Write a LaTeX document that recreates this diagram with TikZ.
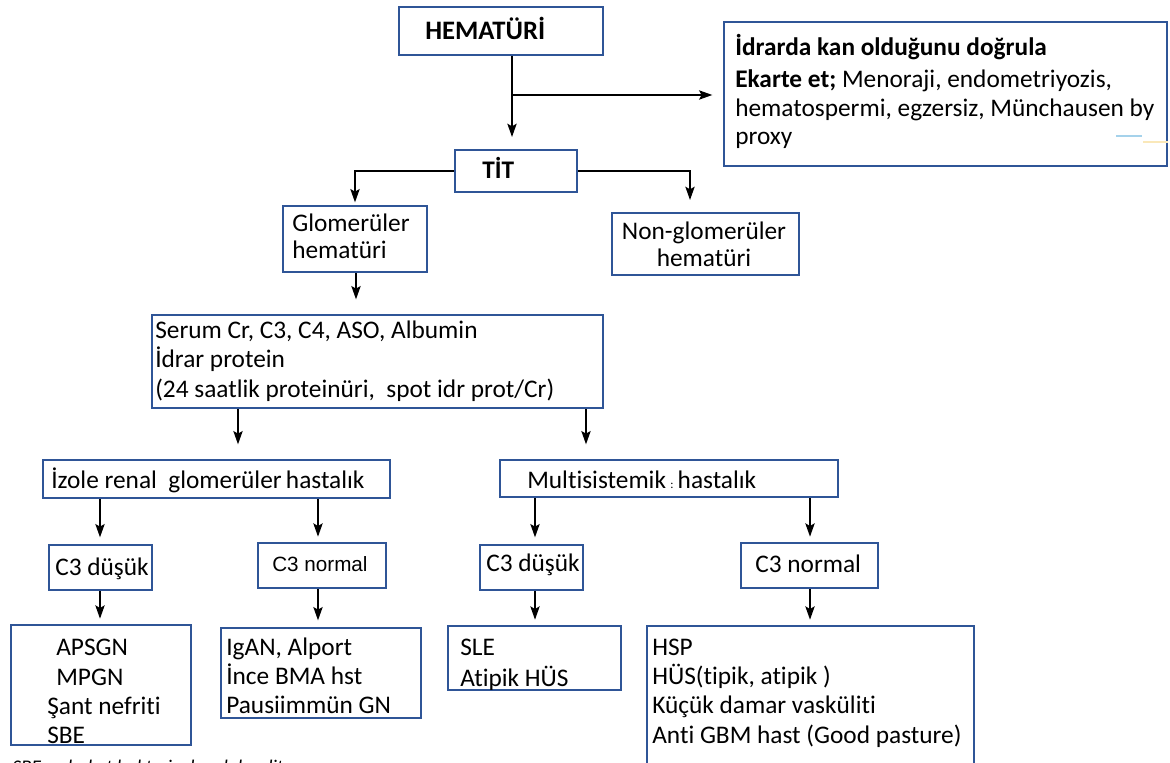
\documentclass[tikz,border=0pt]{standalone}
\usepackage{fontspec}
\setmainfont[Ligatures=NoCommon]{Carlito}
\newfontfamily\arialfont{Liberation Sans}
\usetikzlibrary{arrows.meta,fit,calc}
\definecolor{boxblue}{RGB}{47,85,151}
\definecolor{tickblue}{RGB}{165,210,235}
\definecolor{tickyellow}{RGB}{250,232,185}
\begin{document}
\begin{tikzpicture}[x=0.75pt,y=-0.75pt,
  box/.style={draw=boxblue,line width=1.5pt,inner sep=0pt},
  lbl/.style={inner sep=0pt,anchor=base west,font=\fontsize{19}{22}\selectfont},
  arr/.style={line width=1.1pt,-{Stealth[length=10pt,width=7pt,inset=2pt]}},
  ln/.style={line width=1.1pt}]
\clip (0,0) rectangle (1170,763);
\fill[white] (0,0) rectangle (1170,763);

% boxes
\node[box,fit={(399,7)(603,55)}] (hem) {};
\node[box,fit={(724,22)(1167,166)}] (conf) {};
\node[box,fit={(455,150)(577,192)}] (tit) {};
\node[box,fit={(283,206)(427,272)}] (glom) {};
\node[box,fit={(612,213)(799,275)}] (nonglom) {};
\node[box,fit={(152,315)(603,408)}] (serum) {};
\node[box,fit={(43,460)(390,498)}] (izole) {};
\node[box,fit={(500,460)(838,497)}] (multi) {};
\node[box,fit={(49,545)(152,590)}] (lowA) {};
\node[box,fit={(258,543)(386,588)}] (normA) {};
\node[box,fit={(480,545)(583,590)}] (lowB) {};
\node[box,fit={(741,543)(878,588)}] (normB) {};
\node[box,fit={(11,625)(191,745)}] (resA) {};
\node[box,fit={(221,628)(421,718)}] (resB) {};
\node[box,fit={(448,626)(621,690)}] (resC) {};
\node[box,fit={(647,626)(974,790)}] (resD) {};

% texts
\node[lbl,font=\fontsize{20}{22}\selectfont\bfseries] (them) at (425,40) {HEMATÜRİ};
\node[lbl,font=\fontsize{19}{22}\selectfont\bfseries] (tconf1) at (735,56) {İdrarda kan olduğunu doğrula};
\node[lbl] (tconf2) at (735,88) {\textbf{Ekarte et;} Menoraji, endometriyozis,};
\node[lbl] (tconf3) at (735,117) {hematospermi, egzersiz, Münchausen by};
\node[lbl] (tconf4) at (735,145) {proxy};
\draw[tickblue,line width=1pt] (1116,136) -- (1142,136);
\draw[tickyellow,line width=1pt] (1143,142) -- (1168,142);

\node[lbl,font=\fontsize{19}{22}\selectfont\bfseries] (ttit) at (482,179) {TİT};
\node[lbl] (tglom1) at (292,231) {Glomerüler};
\node[lbl] (tglom2) at (292,258) {hematüri};
\node[lbl,anchor=base] (tng1) at (704,239) {Non-glomerüler};
\node[lbl,anchor=base] (tng2) at (704,266) {hematüri};
\node[lbl] (tser1) at (155,338) {Serum Cr, C3, C4, ASO, Albumin};
\node[lbl] (tser2) at (155,367) {İdrar protein};
\node[lbl] (tser3) at (155,397) {(24 saatlik proteinüri,\ \ spot idr prot/Cr)};
\node[lbl] (tiz) at (51,488) {İzole renal\ \ glomerüler\,hastalık};
\node[lbl] (tmu) at (527,488) {Multisistemik\,{\fontsize{9}{9}\selectfont:}\,hastalık};
\node[lbl] (tlowA) at (55,575) {C3 düşük};
\node[lbl,font=\fontsize{15.5}{18}\selectfont\arialfont] (tnormA) at (272,571) {C3 normal};
\node[lbl] (tlowB) at (486,571) {C3 düşük};
\node[lbl] (tnormB) at (755,572) {C3 normal};

\node[lbl] (ta1) at (56,655) {APSGN};
\node[lbl] (ta2) at (56,685) {MPGN};
\node[lbl] (ta3) at (47,714) {Şant nefriti};
\node[lbl] (ta4) at (47,743) {SBE};
\node[lbl] (tb1) at (226,655) {IgAN, Alport};
\node[lbl] (tb2) at (226,684) {İnce BMA hst};
\node[lbl] (tb3) at (226,713) {Pausiimmün GN};
\begin{scope}
  \clip (448,626) rectangle (621,689);
  \node[lbl] (tc1) at (460,655) {SLE};
  \node[lbl] (tc2) at (460,686) {Atipik HÜS};
\end{scope}
\node[lbl] (td1) at (652,655) {HSP};
\node[lbl] (td2) at (652,684) {HÜS(tipik, atipik )};
\node[lbl] (td3) at (652,713) {Küçük damar vasküliti};
\node[lbl] (td4) at (652,743) {Anti GBM hast (Good pasture)};
\node[lbl,font=\fontsize{14.5}{16}\selectfont\itshape] (tnote) at (12,773) {SBE: subakut bakteriyel endokardit};

% connectors
\coordinate (split) at (512,95);
\draw[ln] (hem.south -| split) -- (split);
\draw[arr,shorten >=8pt] (split) -- (split -| conf.west);
\draw[arr,shorten >=9pt] (split) -- (split |- tit.north);
\coordinate (tl) at (355,171);
\coordinate (tr) at (690,171);
\draw[arr,shorten >=2pt] (tit.west) -- (tl) -- (tl |- glom.north);
\draw[arr,shorten >=9pt] (tit.east) -- (tr) -- (tr |- nonglom.north);
\draw[arr,shorten >=11pt] (glom.south -| 356,0) -- (serum.north -| 356,0);
\draw[arr,shorten >=11pt] (serum.south -| 238,0) -- (izole.north -| 238,0);
\draw[arr,shorten >=11pt] (serum.south -| 586,0) -- (multi.north -| 586,0);
\draw[arr,shorten >=5pt] (izole.south -| 100,0) -- (lowA.north -| 100,0);
\draw[arr,shorten >=4pt] (izole.south -| 318,0) -- (normA.north -| 318,0);
\draw[arr,shorten >=5pt] (multi.south -| 535,0) -- (lowB.north -| 535,0);
\draw[arr,shorten >=4pt] (multi.south -| 810,0) -- (normB.north -| 810,0);
\draw[arr,shorten >=4pt] (lowA.south -| 100,0) -- (resA.north -| 100,0);
\draw[arr,shorten >=5pt] (normA.south -| 318,0) -- (resB.north -| 318,0);
\draw[arr,shorten >=4pt] (lowB.south -| 535,0) -- (resC.north -| 535,0);
\draw[arr,shorten >=4pt] (normB.south -| 810,0) -- (resD.north -| 810,0);
\end{tikzpicture}
\end{document}
